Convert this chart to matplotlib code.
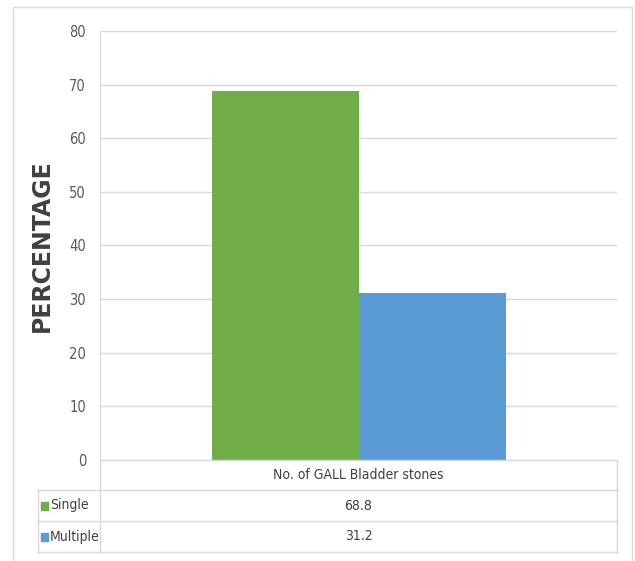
import matplotlib.pyplot as plt
from matplotlib.lines import Line2D
from matplotlib.patches import Rectangle

category = "No. of GALL Bladder stones"
series_names = ["Single", "Multiple"]
values = [68.8, 31.2]
colors = ["#70AD47", "#5B9BD5"]
yticks = [0, 10, 20, 30, 40, 50, 60, 70, 80]

W, H = 635, 561
plt.rcParams['font.family'] = ['DejaVu Sans']
plt.rcParams['font.stretch'] = 'condensed'

fig = plt.figure(figsize=(W / 100, H / 100), dpi=100)


def fx(x):
    return x / W


def fy(y):
    return 1 - y / H


def hline(y, x0, x1, c="#d9d9d9", lw=1.0):
    fig.add_artist(Line2D([fx(x0), fx(x1)], [fy(y), fy(y)], color=c, lw=lw,
                          transform=fig.transFigure))


def vline(x, y0, y1, c="#d9d9d9", lw=1.0):
    fig.add_artist(Line2D([fx(x), fx(x)], [fy(y0), fy(y1)], color=c, lw=lw,
                          transform=fig.transFigure))


# chart-area border
fig.add_artist(Rectangle((fx(13), fy(575)), fx(632) - fx(13), fy(7) - fy(575),
                         transform=fig.transFigure, fill=False,
                         edgecolor="#d9d9d9", lw=1.0))

# plot area
left, right, top, bottom = 100, 617, 31, 460
ax = fig.add_axes([fx(left), fy(bottom), fx(right) - fx(left), fy(top) - fy(bottom)])
ax.set_xlim(0, 1)
ax.set_ylim(0, 80)
bar_w = (359 - 212) / (right - left)
xs = [0.5 - bar_w / 2, 0.5 + bar_w / 2]
ax.bar(xs, values, width=bar_w, color=colors, zorder=3)
ax.set_yticks(yticks)
ax.set_yticklabels([str(t) for t in yticks], color="#595959", fontsize=10.5)
ax.tick_params(axis='y', length=0, pad=10)
ax.set_xticks([])
ax.grid(axis='y', color="#d9d9d9", lw=1.0, zorder=0)
for s in ax.spines.values():
    s.set_visible(False)
ax.spines['left'].set_visible(True)
ax.spines['left'].set_color("#d9d9d9")

ax.set_ylabel("PERCENTAGE", fontstretch='normal', fontweight='bold',
              fontsize=17, color="#404040", labelpad=11)

# data table below the axis
row_y = [460, 490, 521, 552]
hline(row_y[0], left, right)
for y in row_y[1:]:
    hline(y, 38, right)
vline(38, row_y[1], row_y[3])
vline(left, row_y[0], row_y[3])
vline(right, row_y[0], row_y[3])

mid_x = (left + right) / 2
fig.text(fx(mid_x), fy((row_y[0] + row_y[1]) / 2), category, ha='center',
         va='center', fontsize=10, color="#404040")
for i, (name, val, c) in enumerate(zip(series_names, values, colors)):
    yc = (row_y[i + 1] + row_y[i + 2]) / 2
    fig.add_artist(Rectangle((fx(41), fy(yc + 4)), fx(7), fy(0) - fy(8),
                             transform=fig.transFigure, color=c))
    fig.text(fx(50), fy(yc), name, ha='left', va='center', fontsize=10,
             color="#404040")
    fig.text(fx(mid_x), fy(yc), str(val), ha='center', va='center',
             fontsize=10, color="#404040")

plt.savefig("out.png", dpi=100)
